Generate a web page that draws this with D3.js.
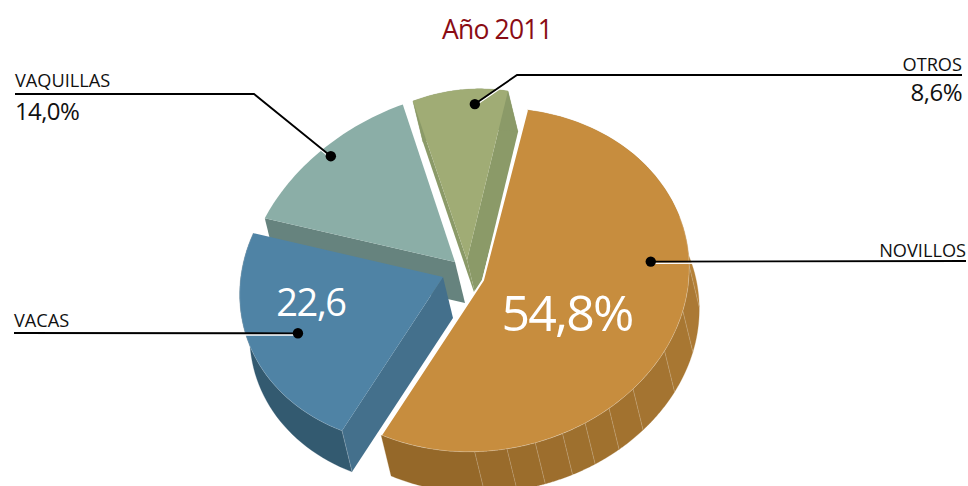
<!DOCTYPE html>
<html><head><meta charset="utf-8">
<style>html,body{margin:0;padding:0;background:#fff}svg{display:block}text{font-family:"Open Sans",sans-serif}</style>
<script src="https://cdnjs.cloudflare.com/ajax/libs/d3/7.8.5/d3.min.js"></script>
</head><body><svg width="968" height="486"></svg>
<script>
// data
const title = "Año 2011";
const categories = ["NOVILLOS", "VACAS", "VAQUILLAS", "OTROS"];
const values = [54.8, 22.6, 14.0, 8.6];
const valueLabels = ["54,8%", "22,6", "14,0%", "8,6%"];
const topColors = ["#c78d3e", "#4f83a5", "#8baea7", "#a0ac75"];
const sideColors = ["#a37330", "#44708c", "#66837e", "#8b9a68"];
const rimColors = ["#946729", "#335a70", "#66837e", "#8b9a68"];

// projection of each exploded slice onto the page (apex and plane axes)
const apexes = [[483,280],[443,277],[455,262],[467,260]];
const axisU = [[44,-170],[44,-167],[60,-173],[41,-169]];
const axisV = [[201.5,25],[198.5,19],[201.5,18],[173.5,27.2]];
const depth = [10,41];
const seamDegrees = [77,92,106,121,130,138,145,153,161,170];
const leaderDot = [[.3755,.815],[.4926,.76],[.512,.939],[.66,.911]]; // share of sweep, share of radius

const svg = d3.select("svg");
const pie = d3.pie().sort(null).value(d=>d).startAngle(0).endAngle(2*Math.PI);
const arcs = pie(values);
const line = d3.line();
const pt = (i,t,r=1,off=[0,0]) => [
  apexes[i][0]+r*(axisU[i][0]*Math.cos(t)+axisV[i][0]*Math.sin(t))+off[0],
  apexes[i][1]+r*(axisU[i][1]*Math.cos(t)+axisV[i][1]*Math.sin(t))+off[1]];
const arcPts = (i,a,b,off) => d3.range(0,41).map(k=>pt(i,a+(b-a)*k/40,1,off));
const rad = d3.scaleLinear().domain([0,360]).range([0,2*Math.PI]);
const rimScale = d3.scaleLinear().domain([70,197]).range(["#ae7c35","#926628"]);

const hairline = "rgba(255,255,255,.28)";
function sideFace(i,t){
  const a=pt(i,t,0), b=pt(i,t,1);
  svg.append("path").attr("d",line([a,b,[b[0]+depth[0],b[1]+depth[1]],[a[0]+depth[0],a[1]+depth[1]]])+"Z").attr("fill",sideColors[i]);
}
function rim(i,a,b,fill){
  svg.append("path").attr("d",line([...arcPts(i,a,b),...arcPts(i,a,b,depth).reverse()])+"Z").attr("fill",fill).attr("stroke",fill).attr("stroke-width",.3);
}
function seam(i,t){
  const p=pt(i,t);
  svg.append("line").attr("x1",p[0]).attr("y1",p[1]).attr("x2",p[0]+depth[0]).attr("y2",p[1]+depth[1]).attr("stroke",hairline).attr("stroke-width",.7);
}
function topFace(i){
  const d=arcs[i];
  svg.append("path").attr("d",line([pt(i,d.startAngle,0),...arcPts(i,d.startAngle,d.endAngle)])+"Z").attr("fill",topColors[i]);
}

// paint back to front
// VAQUILLAS
sideFace(2,arcs[2].startAngle); topFace(2);
// OTROS
sideFace(3,arcs[3].startAngle); sideFace(3,arcs[3].endAngle); rim(3,arcs[3].startAngle,arcs[3].endAngle,rimColors[3]); topFace(3);
// VACAS
rim(1,arcs[1].startAngle,arcs[1].endAngle,rimColors[1]);
sideFace(1,arcs[1].startAngle); seam(1,arcs[1].startAngle); topFace(1);
// NOVILLOS
{
  const d=arcs[0], stops=[0,...seamDegrees,d.endAngle*180/Math.PI];
  d3.pairs(stops).forEach(([a,b])=>rim(0,rad(a),rad(b),rimScale((a+b)/2)));
  seamDegrees.forEach(s=>seam(0,rad(s)));
  topFace(0);
  svg.append("path").attr("d",line([pt(0,d.startAngle),pt(0,0,0),pt(0,d.endAngle)])).attr("fill","none").attr("stroke","#fff").attr("stroke-width",2);
  svg.append("path").attr("d",line(arcPts(0,rad(60),d.endAngle))).attr("fill","none").attr("stroke",hairline).attr("stroke-width",.7);
}
svg.append("path").attr("d",line(arcPts(1,arcs[1].startAngle,arcs[1].endAngle))).attr("fill","none").attr("stroke",hairline).attr("stroke-width",.6);

// title
svg.append("text").attr("x",497).attr("y",39).attr("text-anchor","middle").attr("font-size",26.5).attr("letter-spacing",-.8).attr("fill","#8a0c14").text(title);

// leaders
const elbows = [[[966,261]],[[14,333]],[[254,94],[15,94]],[[517,75],[962,75]]];
arcs.forEach((d,i)=>{
  const t=d.startAngle+(d.endAngle-d.startAngle)*leaderDot[i][0];
  const p=pt(i,t,leaderDot[i][1]);
  const path=[p,...elbows[i]];
  svg.append("path").attr("d",line(path)).attr("transform","translate(0,1.6)").attr("fill","none").attr("stroke","#fff").attr("stroke-width",1.6);
  svg.append("path").attr("d",line(path)).attr("fill","none").attr("stroke","#000").attr("stroke-width",1.8);
  svg.append("circle").attr("cx",p[0]).attr("cy",p[1]).attr("r",5.2).attr("fill","#000");
});

// texts
const nameAt = [[966,257,"end"],[14,327,"start"],[15,87,"start"],[962,71,"end"]];
categories.forEach((c,i)=>svg.append("text").attr("x",nameAt[i][0]).attr("y",nameAt[i][1]).attr("text-anchor",nameAt[i][2]).attr("font-size",18.2).attr("letter-spacing",0).attr("fill","#111").text(c));
const valueAt = [[567,331,"middle",50,"#fff",-1.8],[311,316,"middle",38,"#fff",-1.4],[15,120,"start",24,"#111",-.6],[962,101,"end",24,"#111",-.5]];
valueLabels.forEach((v,i)=>svg.append("text").attr("x",valueAt[i][0]).attr("y",valueAt[i][1]).attr("text-anchor",valueAt[i][2]).attr("font-size",valueAt[i][3]).attr("letter-spacing",valueAt[i][5]).attr("fill",valueAt[i][4]).text(v));
</script></body></html>
